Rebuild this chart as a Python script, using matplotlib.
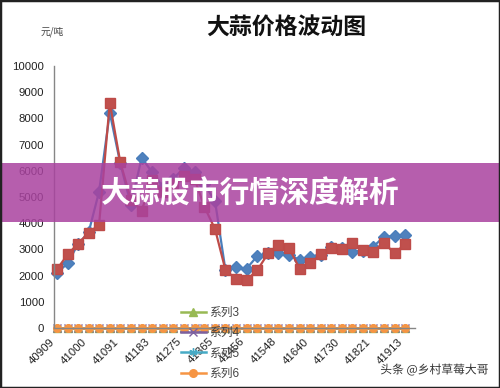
import matplotlib
matplotlib.use('Agg')
import matplotlib.pyplot as plt
import matplotlib.patheffects as pe
from matplotlib.patches import Rectangle

plt.rcParams['font.family'] = ['Liberation Sans', 'Noto Sans CJK SC']

# monthly dates as excel serial numbers (jan 2012 .. oct 2014)
months = [40909, 40940, 40969, 41000, 41030, 41061, 41091, 41122, 41153, 41183, 41214, 41244,
          41275, 41306, 41334, 41365, 41395, 41426, 41456, 41487, 41518, 41548, 41579, 41609,
          41640, 41671, 41699, 41730, 41760, 41791, 41821, 41852, 41883, 41913]

series1 = [2100, 2480, 3200, 3650, 5200, 8220, 6300, 4700, 6500, 5950, 5400, 5700,
           6100, 5970, 5500, 4830, 2200, 2310, 2270, 2750, 2850, 2870, 2790, 2600,
           2720, 2800, 3100, 3050, 2920, 2950, 3100, 3480, 3510, 3550]
series2 = [2250, 2820, 3210, 3640, 3930, 8600, 6350, 4900, 4480, 5650, 5200, 5500,
           5800, 5680, 4630, 3770, 2210, 1860, 1830, 2210, 2850, 3170, 3040, 2260,
           2480, 2820, 3040, 3000, 3230, 2980, 2920, 3260, 2850, 3200]
# series 3-6 are all zero
series3 = [0] * 34
series4 = [0] * 34
series5 = [0] * 34
series6 = [0] * 34

xticks = [40909, 41000, 41091, 41183, 41275, 41365, 41456, 41548, 41640, 41730, 41821, 41913]
yticks = [0, 1000, 2000, 3000, 4000, 5000, 6000, 7000, 8000, 9000, 10000]

fig = plt.figure(figsize=(5, 3.88), dpi=100)
ax = fig.add_axes([0.108, 0.1546, 0.722, 0.6753])

ax.plot(months, series1, color='#4a7ebb', lw=1.6, marker='D', ms=6,
        mfc='#4f81bd', mec='#4a7ebb', clip_on=False)
ax.plot(months, series2, color='#be4b48', lw=1.6, marker='s', ms=7.5,
        mfc='#c0504d', mec='#be4b48', clip_on=False)
ax.plot(months, series3, color='#98b954', lw=1.8, marker='^', ms=6, label='系列3', clip_on=False)
ax.plot(months, series4, color='#7d60a0', lw=1.8, marker='x', ms=6, label='系列4', clip_on=False)
ax.plot(months, series5, color='#46aac5', lw=1.8, marker=(6, 2, 0), ms=6, label='系列5', clip_on=False)
ax.plot(months, series6, color='#f69544', lw=1.8, marker='o', ms=5.5, label='系列6', clip_on=False)

ax.set_xlim(40900, 41942)
ax.set_ylim(0, 10000)
ax.set_yticks(yticks)
ax.set_yticklabels([str(v) for v in yticks], fontsize=8.2, color='#222222')
ax.set_xticks(xticks)
ax.set_xticklabels([str(v) for v in xticks], fontsize=8.2, color='#222222',
                   rotation=45, ha='right')
ax.tick_params(axis='y', length=0, pad=7)
ax.tick_params(axis='x', length=0, pad=6)
for s in ['top', 'right']:
    ax.spines[s].set_visible(False)
for s in ['left', 'bottom']:
    ax.spines[s].set_color('#868686')
    ax.spines[s].set_linewidth(1)

leg = ax.legend(loc='upper left', bbox_to_anchor=(181 / 500, 1 - 307 / 388),
                bbox_transform=fig.transFigure, frameon=False, fontsize=8.5,
                handlelength=2.1, handletextpad=0.3, labelspacing=0.7,
                borderpad=0, borderaxespad=0)
for t in leg.get_texts():
    t.set_color('#444444')

fig.text(0.573, 1 - 28 / 388, '大蒜价格波动图', fontsize=16.5, fontweight='bold',
         family=['Noto Sans CJK SC', 'DejaVu Sans'], ha='center', va='center', color='#111111')
fig.text(52 / 500, 1 - 32 / 388, '元/吨', fontsize=7, family=['Noto Sans CJK SC', 'DejaVu Sans'],
         ha='center', va='center', color='#444444')

# purple banner over the chart
fig.patches.append(Rectangle((0, 1 - 222 / 388), 1, 59 / 388, transform=fig.transFigure,
                             facecolor='#a9429f', alpha=0.85, edgecolor='none', zorder=5))
fig.text(0.5, 1 - 194 / 388, '大蒜股市行情深度解析', fontsize=21.5, fontweight='bold',
         family=['Noto Sans CJK SC', 'DejaVu Sans'], ha='center', va='center',
         color='white', zorder=6)

fig.text(488 / 500, 1 - 370 / 388, '头条 @乡村草莓大哥', fontsize=8.5,
         family=['Noto Sans CJK SC', 'DejaVu Sans'], ha='right', va='center', color='#333333',
         zorder=6, path_effects=[pe.withStroke(linewidth=2, foreground='white')])

# dark frame round the picture
fig.patches.append(Rectangle((0, 0), 1, 1, transform=fig.transFigure, fill=False,
                             edgecolor='#222222', lw=2.5, zorder=7))

fig.savefig('out.png', dpi=100)
